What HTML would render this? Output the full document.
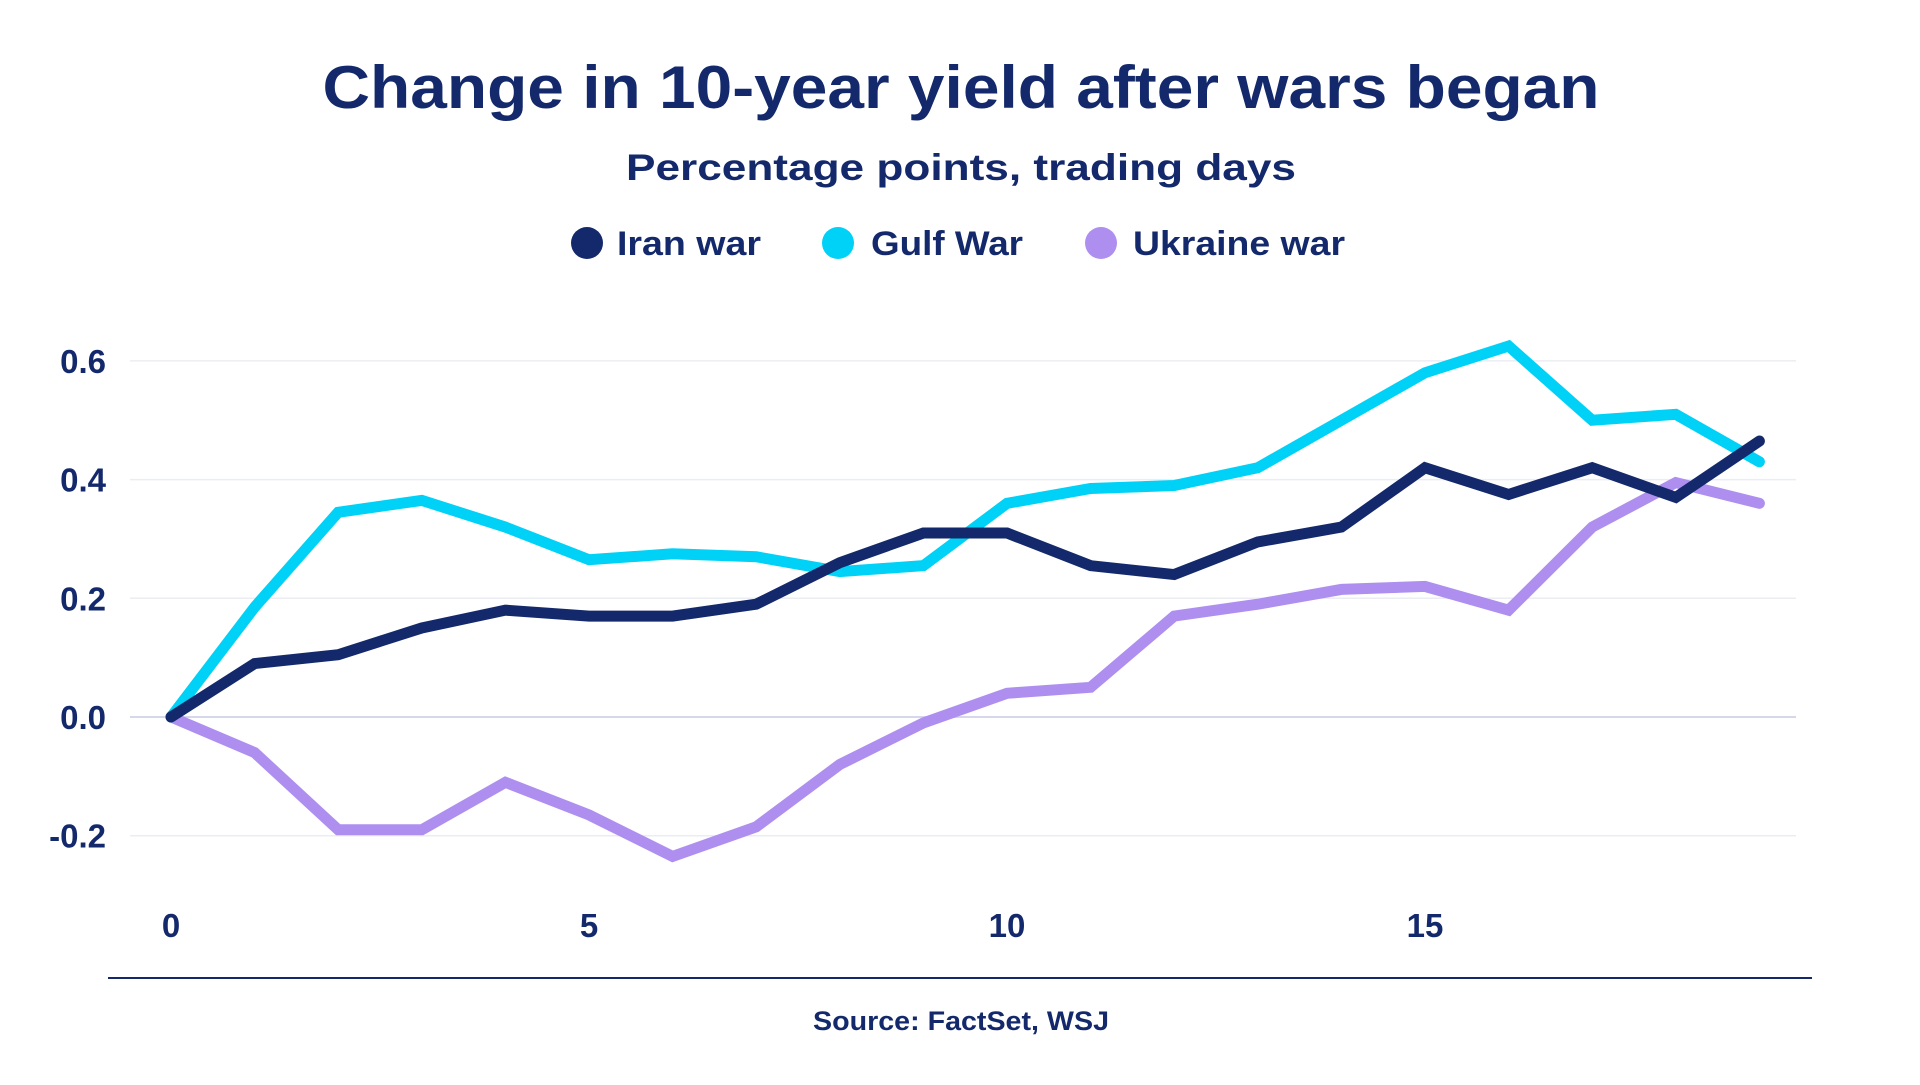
<!DOCTYPE html>
<html><head><meta charset="utf-8"><style>
body{margin:0;background:#fff;width:1920px;height:1080px;overflow:hidden;font-family:"Liberation Sans",sans-serif;}
svg text{font-family:"Liberation Sans",sans-serif;font-weight:bold;fill:#13296b;}
</style></head><body>
<svg id="chart" width="1920" height="1080" xmlns="http://www.w3.org/2000/svg">
<text x="961" y="108" text-anchor="middle" font-size="60" textLength="1277" lengthAdjust="spacingAndGlyphs">Change in 10-year yield after wars began</text>
<text x="961" y="180" text-anchor="middle" font-size="37" textLength="670" lengthAdjust="spacingAndGlyphs">Percentage points, trading days</text>
<g>
<circle cx="587" cy="243" r="16" fill="#13296b"/>
<text x="617" y="255" font-size="34" textLength="144" lengthAdjust="spacingAndGlyphs">Iran war</text>
<circle cx="838" cy="243" r="16" fill="#00d1f7"/>
<text x="871" y="255" font-size="34" textLength="152" lengthAdjust="spacingAndGlyphs">Gulf War</text>
<circle cx="1101" cy="243" r="16" fill="#ae8ff0"/>
<text x="1133" y="255" font-size="34" textLength="212" lengthAdjust="spacingAndGlyphs">Ukraine war</text>
</g>
<g id="grid"></g><g id="ylab"></g><g id="xlab"></g><g id="series"></g>
<line x1="108" y1="978" x2="1812" y2="978" stroke="#13296b" stroke-width="2"/>
<text x="961" y="1030" text-anchor="middle" font-size="27" textLength="296" lengthAdjust="spacingAndGlyphs">Source: FactSet, WSJ</text>
</svg>
<script>
const days=[0,1,2,3,4,5,6,7,8,9,10,11,12,13,14,15,16,17,18,19];
const iran=[0,0.09,0.105,0.15,0.18,0.17,0.17,0.19,0.26,0.31,0.31,0.255,0.24,0.295,0.32,0.42,0.375,0.42,0.37,0.465];
const gulf=[0,0.185,0.345,0.365,0.32,0.265,0.275,0.27,0.245,0.255,0.36,0.385,0.39,0.42,0.5,0.58,0.625,0.5,0.51,0.43];
const ukraine=[0,-0.06,-0.19,-0.19,-0.11,-0.165,-0.235,-0.185,-0.08,-0.01,0.04,0.05,0.17,0.19,0.215,0.22,0.18,0.32,0.395,0.36];
const yTicks=[-0.2,0,0.2,0.4,0.6];
const yTickLabels=["-0.2","0.0","0.2","0.4","0.6"];
const xTicks=[0,5,10,15];
const NS="http://www.w3.org/2000/svg";
const X=d=>171+d*83.6;
const Y=v=>717-v*593.5;
function mk(t,a,p){const e=document.createElementNS(NS,t);for(const k in a)e.setAttribute(k,a[k]);p.appendChild(e);return e;}
const grid=document.getElementById('grid'),yl=document.getElementById('ylab'),xl=document.getElementById('xlab'),sg=document.getElementById('series');
yTicks.forEach((v,i)=>{
 const l=mk('line',{x1:130,x2:1796,y1:Y(v),y2:Y(v),stroke:v===0?'#d4d8ea':'#ebedf3','stroke-width':v===0?2:1.5},grid);
 
 
 const t=mk('text',{x:106,y:Y(v)+12,'text-anchor':'end','font-size':33},yl);
 t.textContent=yTickLabels[i];
 
 
});
xTicks.forEach(d=>{
 const t=mk('text',{x:X(d),y:937,'text-anchor':'middle','font-size':33},xl);
 t.textContent=d;
 
 
});
[[ukraine,'#ae8ff0','ukraine-line'],[gulf,'#00d1f7','gulf-line'],[iran,'#13296b','iran-line']].forEach(([vals,c,n])=>{
 const p=mk('polyline',{points:vals.map((v,i)=>X(days[i])+','+Y(v)).join(' '),fill:'none',stroke:c,'stroke-width':11,'stroke-linejoin':'miter','stroke-linecap':'round'},sg);
 
 
});
</script>
</body></html>
